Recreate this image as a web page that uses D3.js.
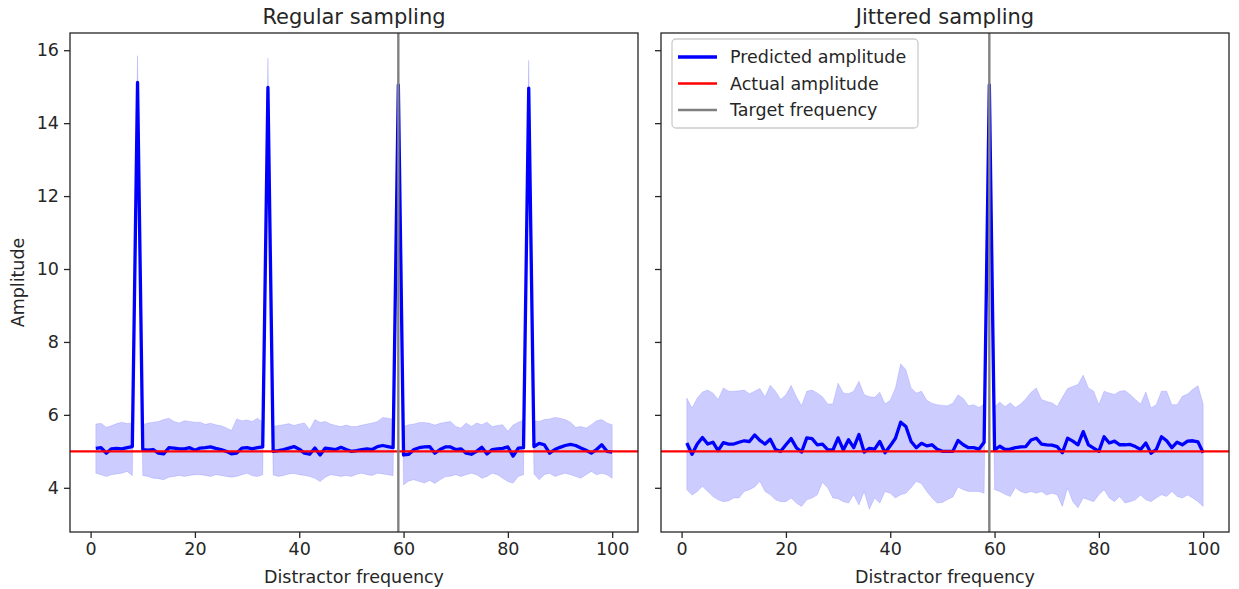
<!DOCTYPE html>
<html>
<head>
<meta charset="utf-8">
<script src="https://cdn.jsdelivr.net/npm/d3@7"></script>
<style>
  html, body { margin: 0; padding: 0; background: #fff; }
  text { font-family: "DejaVu Sans", sans-serif; fill: #262626; }
</style>
</head>
<body>
<svg id="chart" width="1239" height="589"></svg>
<script>
// ---------- data ----------
const frequencies = d3.range(1, 101);
const targetFrequency = 59;
const actualAmplitude = 5;

const regularMean = [
  5.08, 5.10, 4.95, 5.07, 5.08, 5.07, 5.10, 5.13,
  15.12,
  5.05, 5.03, 5.05, 4.95, 4.93, 5.10, 5.09, 5.07, 5.07, 5.10, 5.03, 5.09, 5.10, 5.12, 5.08, 5.05, 5.00, 4.93, 4.95, 5.09, 5.10, 5.07, 5.10, 5.12,
  14.98,
  5.00, 5.02, 5.05, 5.09, 5.13, 5.06, 4.95, 4.92, 5.09, 4.90, 5.09, 5.07, 5.05, 5.11, 5.05, 5.00, 5.02, 5.05, 5.07, 5.05, 5.13, 5.16, 5.13, 5.10,
  15.05,
  4.90, 4.92, 5.05, 5.10, 5.12, 5.13, 4.95, 5.05, 5.12, 5.12,
  5.05, 5.07, 4.95, 4.92, 5.00, 5.11, 4.93, 5.05, 5.07, 5.08, 5.12, 4.87, 5.09, 5.10,
  14.96,
  5.13, 5.22, 5.18, 4.95, 5.05, 5.11, 5.16, 5.19, 5.16, 5.09, 5.03, 4.95, 5.05, 5.18, 5.00, 4.98
];
const regularUpper = [
  5.75, 5.77, 5.66, 5.70, 5.76, 5.80, 5.76, 5.78,
  15.85,
  5.73, 5.78, 5.80, 5.82, 5.87, 5.91, 5.82, 5.78, 5.84, 5.82, 5.80, 5.80, 5.74, 5.77, 5.73, 5.70, 5.65, 5.57, 5.89, 5.84, 5.86, 5.82, 5.91, 5.80,
  15.78,
  5.68, 5.71, 5.73, 5.76, 5.71, 5.75, 5.78, 5.60, 5.87, 5.79, 5.82, 5.75, 5.71, 5.68, 5.72, 5.68, 5.68, 5.72, 5.75, 5.78, 5.82, 5.93, 5.91, 5.88,
  15.80,
  5.68, 5.73, 5.75, 5.79, 5.79, 5.77, 5.72, 5.77, 5.80, 5.82,
  5.68, 5.64, 5.78, 5.68, 5.78, 5.73, 5.80, 5.68, 5.71, 5.73, 5.55, 5.72, 5.80, 5.86,
  15.72,
  5.84, 5.82, 5.87, 5.89, 5.93, 5.91, 5.87, 5.80, 5.66, 5.68, 5.64, 5.73, 5.84, 5.87, 5.78, 5.73
];
const regularLower = [
  4.40, 4.36, 4.31, 4.36, 4.38, 4.40, 4.45, 4.33,
  14.38,
  4.34, 4.31, 4.26, 4.25, 4.22, 4.29, 4.31, 4.34, 4.31, 4.34, 4.36, 4.36, 4.34, 4.31, 4.36, 4.34, 4.31, 4.29, 4.31, 4.36, 4.40, 4.33, 4.31, 4.36,
  14.20,
  4.35, 4.31, 4.34, 4.38, 4.39, 4.36, 4.34, 4.31, 4.26, 4.17, 4.29, 4.36, 4.34, 4.31, 4.34, 4.31, 4.37, 4.40, 4.36, 4.34, 4.40, 4.38, 4.36, 4.33,
  14.30,
  4.08, 4.19, 4.22, 4.17, 4.13, 4.20, 4.12, 4.22, 4.30, 4.32,
  4.36, 4.31, 4.36, 4.40, 4.36, 4.26, 4.31, 4.40, 4.36, 4.26, 4.17, 4.13, 4.31, 4.36,
  14.20,
  4.38, 4.22, 4.36, 4.40, 4.31, 4.36, 4.40, 4.36, 4.31, 4.26, 4.36, 4.45, 4.36, 4.40, 4.36, 4.26
];

const jitterMean = [
  5.23, 4.92, 5.20, 5.38, 5.20, 5.25, 5.02, 5.24, 5.20, 5.20,
  5.25, 5.29, 5.27, 5.45, 5.30, 5.20, 5.33, 5.05, 5.00, 5.18,
  5.35, 5.10, 4.98, 5.37, 5.35, 5.18, 5.20, 5.05, 5.03, 5.37,
  5.04, 5.32, 5.10, 5.46, 4.98, 5.08, 5.06, 5.27, 4.96, 5.15,
  5.36, 5.80, 5.68, 5.27, 5.10, 5.22, 5.15, 5.18, 5.06, 5.00,
  5.00, 5.00, 5.30, 5.18, 5.10, 5.10, 5.06, 5.25, 15.05, 5.04,
  5.14, 5.05, 5.06, 5.10, 5.12, 5.13, 5.31, 5.36, 5.20, 5.18,
  5.17, 5.13, 4.96, 5.36, 5.28, 5.18, 5.54, 5.18, 5.09, 5.00,
  5.40, 5.23, 5.28, 5.18, 5.18, 5.19, 5.13, 5.05, 5.23, 4.95,
  5.05, 5.40, 5.29, 5.10, 5.25, 5.18, 5.28, 5.29, 5.26, 4.96
];
const jitterUpper = [
  6.46, 6.19, 6.46, 6.63, 6.68, 6.60, 6.42, 6.74, 6.65, 6.65,
  6.66, 6.68, 6.58, 6.65, 6.72, 6.50, 6.81, 6.65, 6.42, 6.55,
  6.81, 6.50, 6.25, 6.65, 6.68, 6.60, 6.50, 6.30, 6.30, 6.87,
  6.60, 6.58, 6.65, 6.92, 6.56, 6.50, 6.48, 6.62, 6.30, 6.40,
  6.74, 7.40, 7.24, 6.74, 6.60, 6.65, 6.40, 6.32, 6.28, 6.26,
  6.25, 6.32, 6.55, 6.45, 6.25, 6.28, 6.20, 6.30, 15.20, 6.22,
  6.35, 6.22, 6.33, 6.20, 6.30, 6.44, 6.62, 6.74, 6.42, 6.37,
  6.33, 6.23, 6.48, 6.72, 6.78, 6.83, 7.09, 6.74, 6.65, 6.28,
  6.65, 6.60, 6.56, 6.65, 6.67, 6.56, 6.42, 6.30, 6.63, 6.19,
  6.28, 6.65, 6.65, 6.28, 6.28, 6.51, 6.57, 6.70, 6.80, 6.30
];
const jitterLower = [
  3.95, 3.80, 3.90, 4.04, 3.90, 3.76, 3.67, 3.62, 3.64, 3.72,
  3.72, 3.90, 3.95, 4.02, 4.18, 3.90, 3.81, 3.67, 3.62, 3.62,
  3.72, 3.58, 3.49, 3.67, 3.72, 3.80, 4.15, 4.00, 3.72, 3.70,
  3.62, 3.58, 3.81, 3.53, 3.90, 3.41, 3.72, 3.58, 3.90, 3.85,
  3.72, 3.81, 3.85, 4.00, 4.18, 4.11, 3.90, 3.72, 3.58, 3.60,
  3.68, 3.75, 4.02, 3.95, 3.90, 3.90, 3.90, 3.85, 14.90, 3.95,
  3.90, 3.82, 3.76, 4.00, 3.90, 3.85, 3.90, 3.85, 3.90, 3.80,
  3.85, 3.81, 3.49, 4.00, 3.62, 3.45, 3.72, 3.67, 3.62, 3.81,
  3.95, 3.72, 3.62, 3.76, 3.58, 3.62, 3.67, 3.80, 3.67, 3.62,
  3.72, 3.81, 3.76, 3.90, 3.76, 3.72, 3.80, 3.72, 3.62, 3.49
];

const xTicks = [0, 20, 40, 60, 80, 100];
const yTicks = [4, 6, 8, 10, 12, 14, 16];
const titles = ["Regular sampling", "Jittered sampling"];
const legendLabels = ["Predicted amplitude", "Actual amplitude", "Target frequency"];

// ---------- layout ----------
const svg = d3.select("#chart");
const plotTop = 33, plotBottom = 532;
const panels = [
  { left: 70, right: 638, title: titles[0], mean: regularMean, lo: regularLower, hi: regularUpper, yLabels: true },
  { left: 661, right: 1229, title: titles[1], mean: jitterMean, lo: jitterLower, hi: jitterUpper, yLabels: false, legend: true }
];

const xExt = d3.extent(frequencies);
const xPad = (xExt[1] - xExt[0]) * 0.05;
const allY = [].concat(regularLower, regularUpper, jitterLower, jitterUpper);
const yExt = d3.extent(allY);
const yPad = (yExt[1] - yExt[0]) * 0.05;
const y = d3.scaleLinear().domain([yExt[0] - yPad, yExt[1] + yPad]).range([plotBottom, plotTop]);

const fontBase = 17.5;
const blue = "#0000ff", red = "#ff0000", gray = "#808080";

panels.forEach(p => {
  const x = d3.scaleLinear().domain([xExt[0] - xPad, xExt[1] + xPad]).range([p.left, p.right]);
  const g = svg.append("g");
  const clipId = "clip" + p.left;
  svg.append("clipPath").attr("id", clipId).append("rect")
    .attr("x", p.left).attr("y", plotTop).attr("width", p.right - p.left).attr("height", plotBottom - plotTop);
  const plot = g.append("g").attr("clip-path", `url(#${clipId})`);

  const rows = frequencies.map((f, i) => ({ f, m: p.mean[i], lo: p.lo[i], hi: p.hi[i] }));

  plot.append("path").datum(rows)
    .attr("d", d3.area().x(d => x(d.f)).y0(d => y(d.lo)).y1(d => y(d.hi)))
    .attr("fill", blue).attr("fill-opacity", 0.2).attr("stroke", blue).attr("stroke-opacity", 0.12).attr("stroke-width", 1);

  plot.append("path").datum(rows)
    .attr("d", d3.line().x(d => x(d.f)).y(d => y(d.m)))
    .attr("fill", "none").attr("stroke", blue).attr("stroke-width", 3.3).attr("stroke-linejoin", "round");

  plot.append("line")
    .attr("x1", p.left).attr("x2", p.right).attr("y1", y(actualAmplitude)).attr("y2", y(actualAmplitude))
    .attr("stroke", red).attr("stroke-width", 2.4);

  plot.append("line")
    .attr("x1", x(targetFrequency)).attr("x2", x(targetFrequency)).attr("y1", plotTop).attr("y2", plotBottom)
    .attr("stroke", gray).attr("stroke-width", 2.4);

  // axes
  const xAxis = d3.axisBottom(x).tickValues(xTicks).tickSize(6).tickPadding(5).tickFormat(d3.format("d"));
  const gx = g.append("g").attr("transform", `translate(0,${plotBottom})`).call(xAxis);
  const yAxis = d3.axisLeft(y).tickValues(yTicks).tickSize(6).tickPadding(5).tickFormat(p.yLabels ? d3.format("d") : () => "");
  const gy = g.append("g").attr("transform", `translate(${p.left},0)`).call(yAxis);
  [gx, gy].forEach(a => {
    a.select(".domain").remove();
    a.selectAll(".tick line").attr("stroke", "#262626").attr("stroke-width", 1.3);
    a.selectAll(".tick text").attr("font-size", fontBase).attr("fill", "#262626")
      .style("font-family", '"DejaVu Sans", sans-serif');
  });

  // frame
  g.append("rect").attr("x", p.left).attr("y", plotTop).attr("width", p.right - p.left).attr("height", plotBottom - plotTop)
    .attr("fill", "none").attr("stroke", "#262626").attr("stroke-width", 1.3);

  g.append("text").attr("x", (p.left + p.right) / 2).attr("y", 24)
    .attr("text-anchor", "middle").attr("font-size", 21).text(p.title);
  g.append("text").attr("x", (p.left + p.right) / 2).attr("y", 583)
    .attr("text-anchor", "middle").attr("font-size", fontBase).text("Distractor frequency");

  if (p.yLabels) {
    g.append("text").attr("transform", `translate(24,${(plotTop + plotBottom) / 2}) rotate(-90)`)
      .attr("text-anchor", "middle").attr("font-size", fontBase).text("Amplitude");
  }

  if (p.legend) {
    const lg = g.append("g");
    lg.append("rect").attr("x", 672).attr("y", 39).attr("width", 246).attr("height", 89)
      .attr("rx", 4).attr("fill", "#fff").attr("fill-opacity", 0.8).attr("stroke", "#cccccc").attr("stroke-width", 1.3);
    const styles = [{ c: blue, w: 3.3 }, { c: red, w: 2.4 }, { c: gray, w: 2.4 }];
    legendLabels.forEach((lab, i) => {
      const cy = 57 + i * 26.5;
      lg.append("line").attr("x1", 678).attr("x2", 717).attr("y1", cy).attr("y2", cy)
        .attr("stroke", styles[i].c).attr("stroke-width", styles[i].w);
      lg.append("text").attr("x", 730).attr("y", cy + 6).attr("font-size", fontBase).text(lab);
    });
  }
});
</script>
</body>
</html>
